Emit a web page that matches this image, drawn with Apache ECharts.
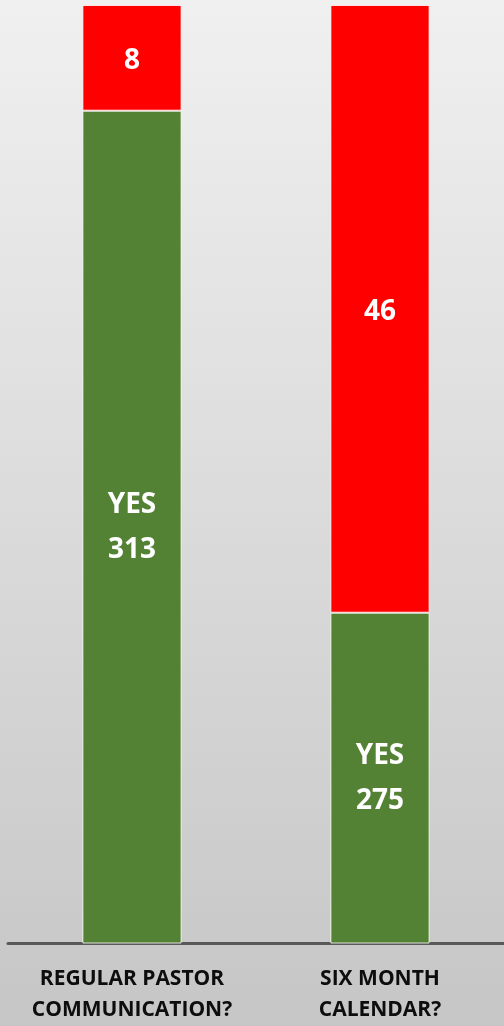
<!DOCTYPE html>
<html lang="en">
<head>
    <meta charset="UTF-8">
    <title>Survey</title>
    <script src="https://cdn.jsdelivr.net/npm/echarts@6.0.0/dist/echarts.min.js"></script>
    <style>
        html, body { margin: 0; padding: 0; }
        #chart1 { width: 504px; height: 1026px; }
    </style>
</head>
<body>
<div id="chart1"></div>

<script>
    var categories = ['REGULAR PASTOR\nCOMMUNICATION?', 'SIX MONTH\nCALENDAR?'];
    var yesValues = [313, 275];
    var noValues = [8, 46];
    var axisMin = 250;
    var axisMax = 321;

    var myChart = echarts.init(document.getElementById('chart1'));
    var labelFont = { fontFamily: 'Open Sans', fontWeight: 'bold', fontSize: 28, color: '#ffffff' };

    var option = {
        backgroundColor: new echarts.graphic.LinearGradient(0, 0, 0, 1, [
            { offset: 0, color: '#f0f0f0' },
            { offset: 1, color: '#c6c6c6' }
        ]),
        grid: { left: 8, right: 0, top: 5, bottom: 83 },
        xAxis: {
            type: 'category',
            data: categories,
            axisTick: { show: false },
            axisLine: { lineStyle: { color: '#595959', width: 3 } },
            axisLabel: {
                interval: 0,
                hideOverlap: false,
                margin: 21,
                fontFamily: 'Open Sans',
                fontWeight: 'bold',
                fontSize: 21,
                lineHeight: 31,
                color: '#0d0d0d'
            }
        },
        yAxis: {
            type: 'value',
            min: axisMin,
            max: axisMax,
            show: false,
            splitLine: { show: false }
        },
        series: [
            {
                name: 'YES',
                type: 'bar',
                stack: 'total',
                barWidth: '40%',
                data: yesValues,
                itemStyle: { color: '#548235', borderColor: 'rgba(255,255,255,0.8)', borderWidth: 1 },
                label: Object.assign({ show: true, position: 'inside', lineHeight: 45, formatter: 'YES\n{c}' }, labelFont)
            },
            {
                name: 'NO',
                type: 'bar',
                stack: 'total',
                data: noValues,
                itemStyle: { color: '#ff0000', borderColor: 'rgba(255,255,255,0.8)', borderWidth: 1 },
                label: Object.assign({ show: true, position: 'inside', offset: [0, 3], formatter: '{c}' }, labelFont)
            }
        ]
    };
    myChart.setOption(option);
</script>
</body>
</html>
